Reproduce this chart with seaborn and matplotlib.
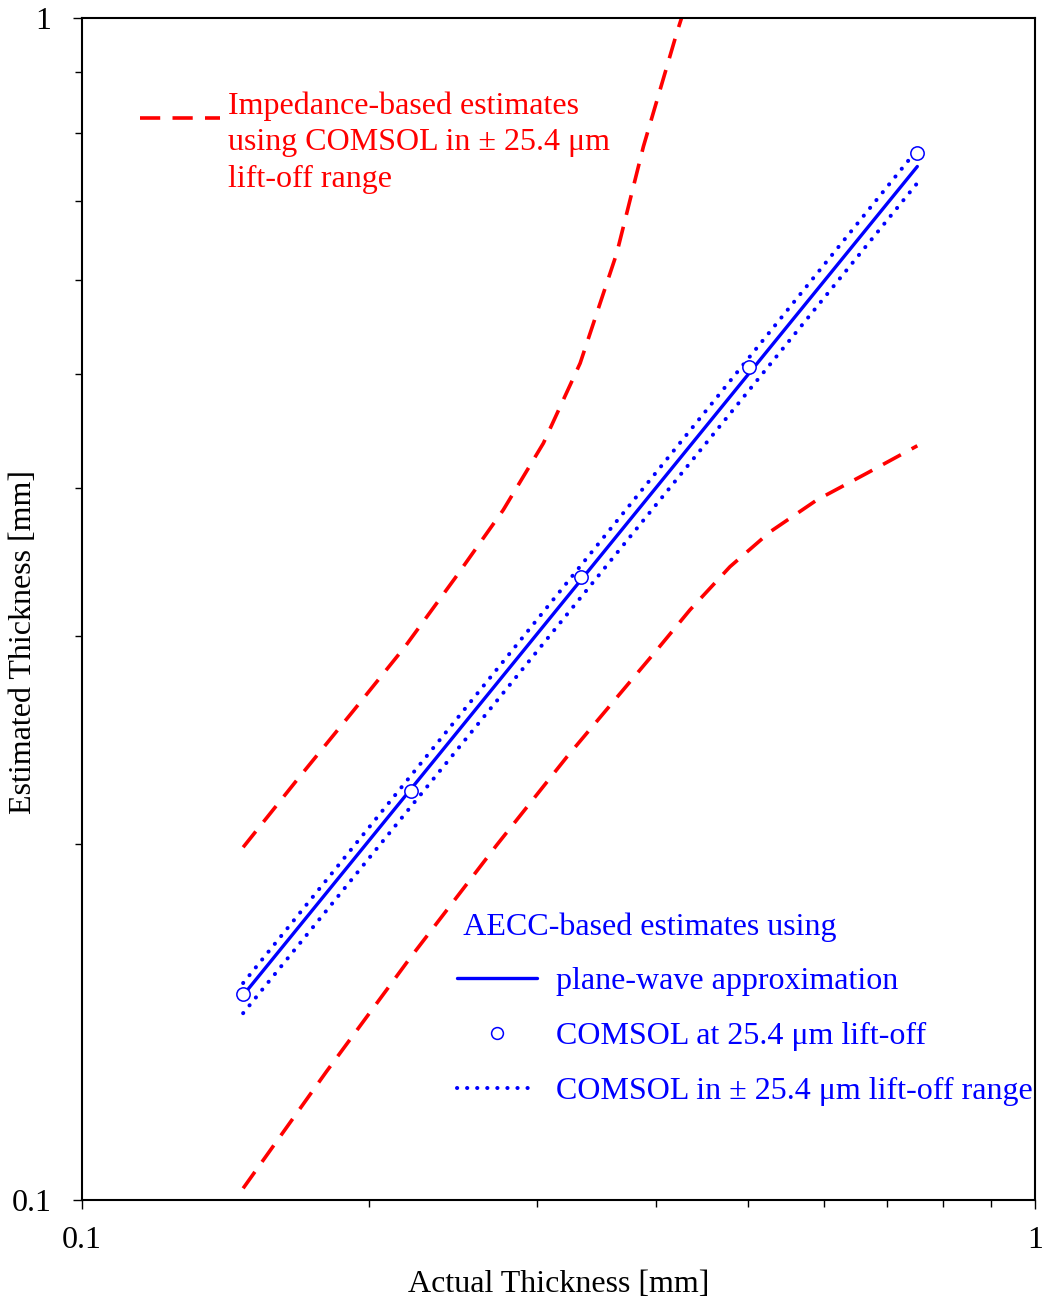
import matplotlib
matplotlib.use("Agg")
import matplotlib.pyplot as plt
import numpy as np
import pandas as pd
import seaborn as sns
from matplotlib.lines import Line2D
from matplotlib.legend_handler import HandlerLine2D
from matplotlib.ticker import LogLocator, NullFormatter, FuncFormatter

# ---------------- data ----------------
# AECC-based estimates, plane-wave approximation (solid line)
plane_x = [0.1476, 0.7525]
plane_y = [0.1490, 0.7488]

# COMSOL at 25.4 um lift-off (open circles)
comsol_x = [0.1476, 0.2214, 0.3338, 0.5011, 0.7525]
comsol_y = [0.1494, 0.2217, 0.3364, 0.5064, 0.7686]

# COMSOL in +/- 25.4 um lift-off range (dotted bounds)
range_x = [0.1476, 0.7525]
range_upper_y = [0.1526, 0.7740]
range_lower_y = [0.1439, 0.7250]

# Impedance-based estimates (red dashed bounds)
imp_upper_x = [0.1476, 0.1680, 0.1926, 0.2182, 0.2462, 0.2767, 0.3049,
               0.3332, 0.3640, 0.3882, 0.4207, 0.4257]
imp_upper_y = [0.1988, 0.2265, 0.2593, 0.2938, 0.3357, 0.3835, 0.4368,
               0.5104, 0.6323, 0.7783, 0.9705, 1.0000]
imp_lower_x = [0.1476, 0.1806, 0.2209, 0.2723, 0.3226, 0.3654, 0.4009,
               0.4345, 0.4786, 0.5272, 0.5902, 0.6659, 0.7525]
imp_lower_y = [0.1023, 0.1285, 0.1602, 0.1996, 0.2370, 0.2671, 0.2919,
               0.3157, 0.3434, 0.3675, 0.3910, 0.4119, 0.4346]

red_legend_lines = ["Impedance-based estimates",
                    "using COMSOL in \u00b1 25.4 \u03bcm",
                    "lift-off range"]
blue_title = " AECC-based estimates using"
blue_labels = ["plane-wave approximation",
               "COMSOL at 25.4 \u03bcm lift-off",
               "COMSOL in \u00b1 25.4 \u03bcm lift-off range"]

# ---------------- style ----------------
sns.set_theme(style="ticks")
plt.rcParams["font.family"] = ["Liberation Serif", "DejaVu Serif"]
FS = 23
RED = "#ff0000"
BLUE = "#0000ff"
DASH = (0, (5.6, 3.4))
DOT = (0, (0.05, 2.45))
DOT_LW = 2.9


class ShiftedLineHandler(HandlerLine2D):
    """Legend line handler that moves its sample down by dy points."""

    def __init__(self, dy=0.0, **kw):
        super().__init__(**kw)
        self.dy = dy

    def create_artists(self, legend, orig_handle, xdescent, ydescent, width,
                       height, fontsize, trans):
        artists = super().create_artists(legend, orig_handle, xdescent, ydescent,
                                         width, height, fontsize, trans)
        for a in artists:
            a.set_ydata(np.asarray(a.get_ydata(), dtype=float) - self.dy)
        return artists


fig = plt.figure(figsize=(10.44, 13.02), dpi=100)
ax = fig.add_axes([0.07854, 0.07834, 0.91284, 0.90784])

# red dashed bounds
sns.lineplot(data=pd.DataFrame({"x": imp_upper_x, "y": imp_upper_y}), x="x", y="y",
             ax=ax, color=RED, lw=2.6, linestyle=DASH, sort=False, estimator=None)
sns.lineplot(data=pd.DataFrame({"x": imp_lower_x, "y": imp_lower_y}), x="x", y="y",
             ax=ax, color=RED, lw=2.6, linestyle=DASH, sort=False, estimator=None)

# blue dotted bounds
sns.lineplot(data=pd.DataFrame({"x": range_x, "y": range_upper_y}), x="x", y="y",
             ax=ax, color=BLUE, lw=DOT_LW, linestyle=DOT, dash_capstyle="round",
             sort=False, estimator=None)
sns.lineplot(data=pd.DataFrame({"x": range_x, "y": range_lower_y}), x="x", y="y",
             ax=ax, color=BLUE, lw=DOT_LW, linestyle=DOT, dash_capstyle="round",
             sort=False, estimator=None)

# solid plane-wave line
sns.lineplot(data=pd.DataFrame({"x": plane_x, "y": plane_y}), x="x", y="y",
             ax=ax, color=BLUE, lw=2.4, sort=False, estimator=None)

# COMSOL circles
sns.scatterplot(data=pd.DataFrame({"x": comsol_x, "y": comsol_y}), x="x", y="y",
                ax=ax, marker="o", s=92, facecolor="white", edgecolor=BLUE,
                linewidth=1.1, zorder=5)

ax.set_xscale("log")
ax.set_yscale("log")
ax.set_xlim(0.1, 1)
ax.set_ylim(0.1, 1)

fmt = FuncFormatter(lambda v, _: f"{v:g}")
for axis in (ax.xaxis, ax.yaxis):
    axis.set_major_locator(LogLocator(base=10))
    axis.set_minor_locator(LogLocator(base=10, subs=range(2, 10)))
    axis.set_major_formatter(fmt)
    axis.set_minor_formatter(NullFormatter())

ax.tick_params(which="both", direction="out", top=False, right=False,
               colors="black", labelsize=FS, width=1.0)
ax.tick_params(which="major", length=6.5)
ax.tick_params(which="minor", length=5)
ax.tick_params(axis="x", which="major", pad=12.5)
ax.tick_params(axis="y", which="major", pad=15.5)

for sp in ax.spines.values():
    sp.set_visible(True)
    sp.set_color("black")
    sp.set_linewidth(1.5)

ax.set_xlabel("Actual Thickness [mm]", fontsize=FS, color="black")
ax.set_ylabel("Estimated Thickness [mm]", fontsize=FS, color="black")
ax.xaxis.set_label_coords(0.5, -0.059)
ax.yaxis.set_label_coords(-0.046, 0.472)

# ---------------- legends ----------------
red_handles = [Line2D([], [], color=RED, lw=2.6, linestyle=DASH),
               Line2D([], [], linestyle="none"),
               Line2D([], [], linestyle="none")]
leg_red = ax.legend(red_handles, red_legend_lines, loc="upper left",
                    bbox_to_anchor=(0.0609, 0.938), borderpad=0, borderaxespad=0,
                    handlelength=2.5, handletextpad=0.25, labelspacing=0.22,
                    frameon=False, fontsize=FS, labelcolor=RED,
                    handler_map={red_handles[0]: ShiftedLineHandler(dy=10.8)})
ax.add_artist(leg_red)

blue_handles = [Line2D([], [], color=BLUE, lw=2.4),
                Line2D([], [], linestyle="none", marker="o", markersize=8.5,
                       markerfacecolor="white", markeredgecolor=BLUE,
                       markeredgewidth=1.1),
                Line2D([], [], color=BLUE, lw=DOT_LW, linestyle=DOT,
                       dash_capstyle="round")]
leg_blue = ax.legend(blue_handles, blue_labels, loc="upper left",
                     bbox_to_anchor=(0.3935, 0.2436), borderpad=0, borderaxespad=0,
                     handlelength=2.5, handletextpad=0.6, labelspacing=0.80,
                     frameon=False, fontsize=FS, labelcolor=BLUE,
                     title=blue_title, title_fontsize=FS, alignment="left")
leg_blue.get_title().set_color(BLUE)

fig.savefig("out.png", dpi=100)
